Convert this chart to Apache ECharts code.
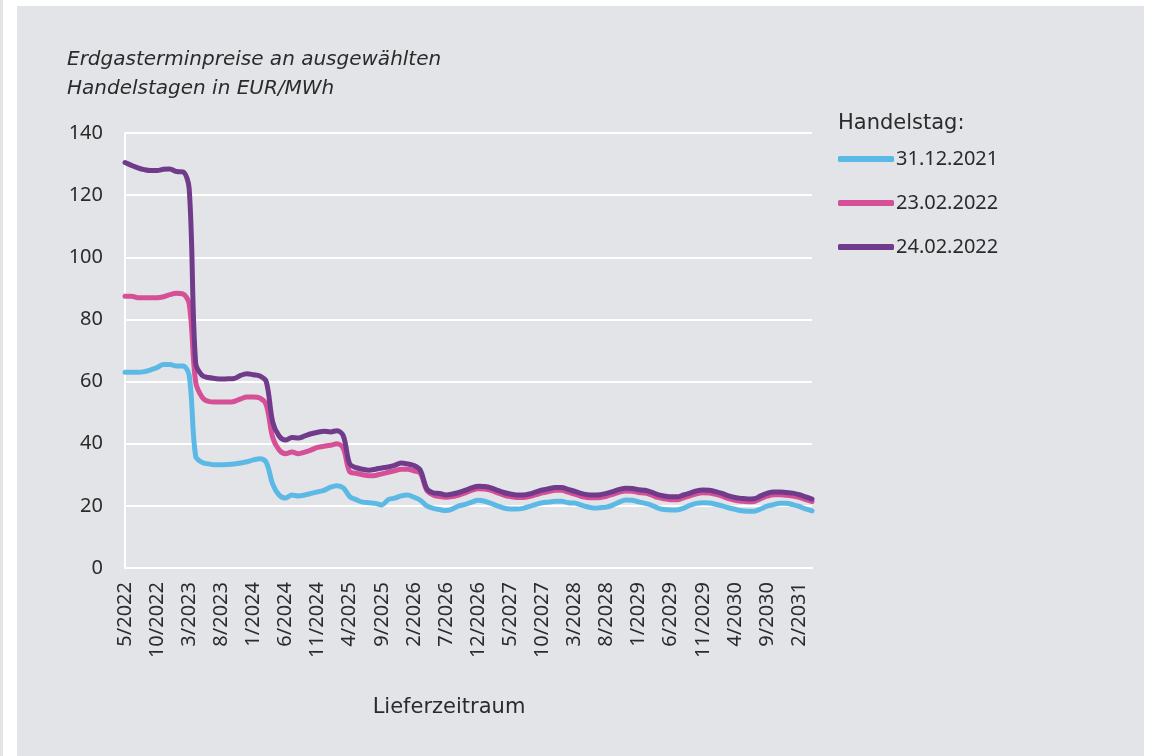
<!DOCTYPE html>
<html>
<head>
<meta charset="utf-8">
<script src="https://cdn.jsdelivr.net/npm/echarts@6/dist/echarts.min.js"></script>
<style>
  html, body { margin: 0; padding: 0; background: #ffffff; }
  #chart { width: 1155px; height: 756px; }
</style>
</head>
<body>
<div id="chart"></div>
<script>
// delivery months 5/2022 .. 4/2031
var startYear = 2022, startMonth = 5, monthCount = 108;
var months = [];
for (var k = 0; k < monthCount; k++) {
    var m = (startMonth - 1 + k) % 12 + 1;
    var y = startYear + Math.floor((startMonth - 1 + k) / 12);
    months.push(m + '/' + y);
}

var seriesNames = ['31.12.2021', '23.02.2022', '24.02.2022'];
var seriesColors = ['#5cb9e5', '#d55096', '#713b8b'];

// EUR/MWh, trading day 31.12.2021
var price_20211231 = [
    63, 63, 63, 63.2, 63.8, 64.5, 65.5, 65.5, 65, 65,
    62, 36, 34, 33.5, 33.2, 33.2, 33.3, 33.5, 33.8, 34.2,
    34.8, 35.2, 34, 27, 23.5, 22.5, 23.5, 23.2, 23.5, 24,
    24.5, 25, 26, 26.5, 25.8, 23, 22, 21.2, 21, 20.8,
    20.3, 22, 22.5, 23.2, 23.5, 22.8, 21.8, 20, 19.2, 18.8,
    18.5, 19, 20, 20.5, 21.2, 21.8, 21.5, 20.8, 20, 19.3,
    19, 19, 19.2, 19.8, 20.5, 21, 21.2, 21.5, 21.5, 21,
    20.9, 20.3, 19.7, 19.3, 19.4, 19.6, 20.3, 21.2, 21.9, 21.8,
    21.3, 20.8, 20.2, 19.3, 18.8, 18.7, 18.7, 19.3, 20.2, 20.8,
    21, 20.9, 20.5, 20, 19.4, 18.9, 18.4, 18.3, 18.3, 19,
    19.9, 20.4, 20.8, 20.8, 20.4, 19.8, 19, 18.4
];

// trading day 23.02.2022
var price_20220223 = [
    87.5, 87.5, 87, 87, 87, 87, 87.3, 88, 88.4, 88.2,
    85, 60, 55, 53.6, 53.4, 53.4, 53.4, 53.6, 54.4, 55,
    55, 54.7, 52.5, 42, 38, 36.8, 37.3, 36.8, 37.3, 38,
    38.8, 39.2, 39.5, 40, 38.5, 31, 30.5, 30, 29.7, 29.8,
    30.3, 30.8, 31.3, 31.8, 31.8, 31.3, 30.5, 25, 23.5, 23,
    22.8, 23, 23.5, 24.2, 25, 25.5, 25.4, 25, 24.2, 23.5,
    23, 22.7, 22.7, 23, 23.6, 24.2, 24.6, 25, 25, 24.4,
    23.8, 23.1, 22.7, 22.6, 22.7, 23.1, 23.7, 24.4, 24.8, 24.7,
    24.3, 24.1, 23.5, 22.7, 22.3, 22, 22, 22.6, 23.2, 23.9,
    24.2, 24.1, 23.7, 23.1, 22.3, 21.8, 21.5, 21.3, 21.4, 22.3,
    23.1, 23.6, 23.6, 23.4, 23.2, 22.7, 22, 21.4
];

// trading day 24.02.2022
var price_20220224 = [
    130.5, 129.6, 128.8, 128.2, 127.9, 127.9, 128.3, 128.4, 127.6, 127.5,
    122, 66, 62, 61.3, 61, 60.8, 60.9, 61, 62, 62.5,
    62.2, 61.8, 60, 47, 42.5, 41.2, 42, 41.8, 42.5, 43.2,
    43.7, 44, 43.8, 44.2, 42.5, 33.5, 32.3, 31.8, 31.5, 31.8,
    32.2, 32.5, 33, 33.8, 33.5, 33, 31.5, 25.5, 24.2, 24,
    23.5, 23.8, 24.3, 25, 25.8, 26.3, 26.2, 25.8, 25, 24.3,
    23.8, 23.5, 23.5, 23.8, 24.5, 25.1, 25.5, 25.9, 25.9, 25.3,
    24.7, 24, 23.6, 23.5, 23.6, 24, 24.6, 25.3, 25.7, 25.6,
    25.2, 25, 24.4, 23.6, 23.2, 22.9, 22.9, 23.5, 24.1, 24.8,
    25.1, 25, 24.6, 24, 23.2, 22.7, 22.4, 22.2, 22.3, 23.2,
    24, 24.5, 24.5, 24.3, 24.1, 23.6, 22.9, 22.2
];

var seriesData = [price_20211231, price_20220223, price_20220224];

var numFont = '"Noto Sans", sans-serif';
var wordFont = '"DejaVu Sans", sans-serif';
var textColor = '#2b2b2b';
var panelColor = '#e3e4e8';

var chart = echarts.init(document.getElementById('chart'), null, { renderer: 'canvas' });

var series = seriesNames.map(function (name, i) {
    return {
        name: name,
        type: 'line',
        data: seriesData[i],
        smooth: 0.35,
        showSymbol: false,
        symbol: 'none',
        color: seriesColors[i],
        lineStyle: { width: 5, color: seriesColors[i], cap: 'round', join: 'round' },
        z: 3 + i
    };
});

var option = {
    backgroundColor: '#ffffff',
    animation: false,
    graphic: [
        { type: 'rect', shape: { x: 17, y: 6, width: 1127, height: 750 }, style: { fill: panelColor }, z: -10 },
        { type: 'rect', shape: { x: 0, y: 0, width: 3, height: 756 }, style: { fill: panelColor }, z: -10 },
        {
            type: 'text', left: 67, top: 45, z: 10,
            style: {
                text: 'Erdgasterminpreise an ausgewählten\nHandelstagen in EUR/MWh',
                font: 'italic 20px ' + wordFont, fill: textColor, lineHeight: 29
            }
        },
        {
            type: 'text', left: 838, top: 113, z: 10,
            style: { text: 'Handelstag:', font: '21px ' + wordFont, fill: textColor }
        },
        {
            type: 'text', z: 10,
            x: 449, y: 708,
            style: {
                text: 'Lieferzeitraum', font: '21px ' + wordFont, fill: textColor,
                align: 'center', verticalAlign: 'middle'
            }
        }
    ],
    legend: {
        orient: 'vertical',
        left: 833,
        top: 142,
        icon: 'roundRect',
        itemWidth: 56,
        itemHeight: 6,
        itemGap: 20,
        data: seriesNames,
        textStyle: { fontFamily: numFont, fontSize: 20, color: textColor, lineHeight: 24, padding: [0, 0, 0, -3] }
    },
    grid: { left: 125, right: 343, top: 133, bottom: 188, containLabel: false },
    xAxis: {
        type: 'category',
        data: months,
        boundaryGap: false,
        axisLine: { show: true, lineStyle: { color: '#ffffff', width: 2 } },
        axisTick: { show: false },
        axisLabel: {
            interval: 4, rotate: 90, margin: 14,
            fontFamily: numFont, fontSize: 20, color: textColor
        },
        splitLine: { show: false }
    },
    yAxis: {
        type: 'value',
        min: 0, max: 140, interval: 20,
        axisLine: { show: true, lineStyle: { color: '#ffffff', width: 2 } },
        axisTick: { show: false },
        axisLabel: { margin: 22, fontFamily: numFont, fontSize: 20, color: textColor },
        splitLine: { show: true, lineStyle: { color: '#ffffff', width: 2 } }
    },
    series: series
};

chart.setOption(option);
</script>
</body>
</html>
